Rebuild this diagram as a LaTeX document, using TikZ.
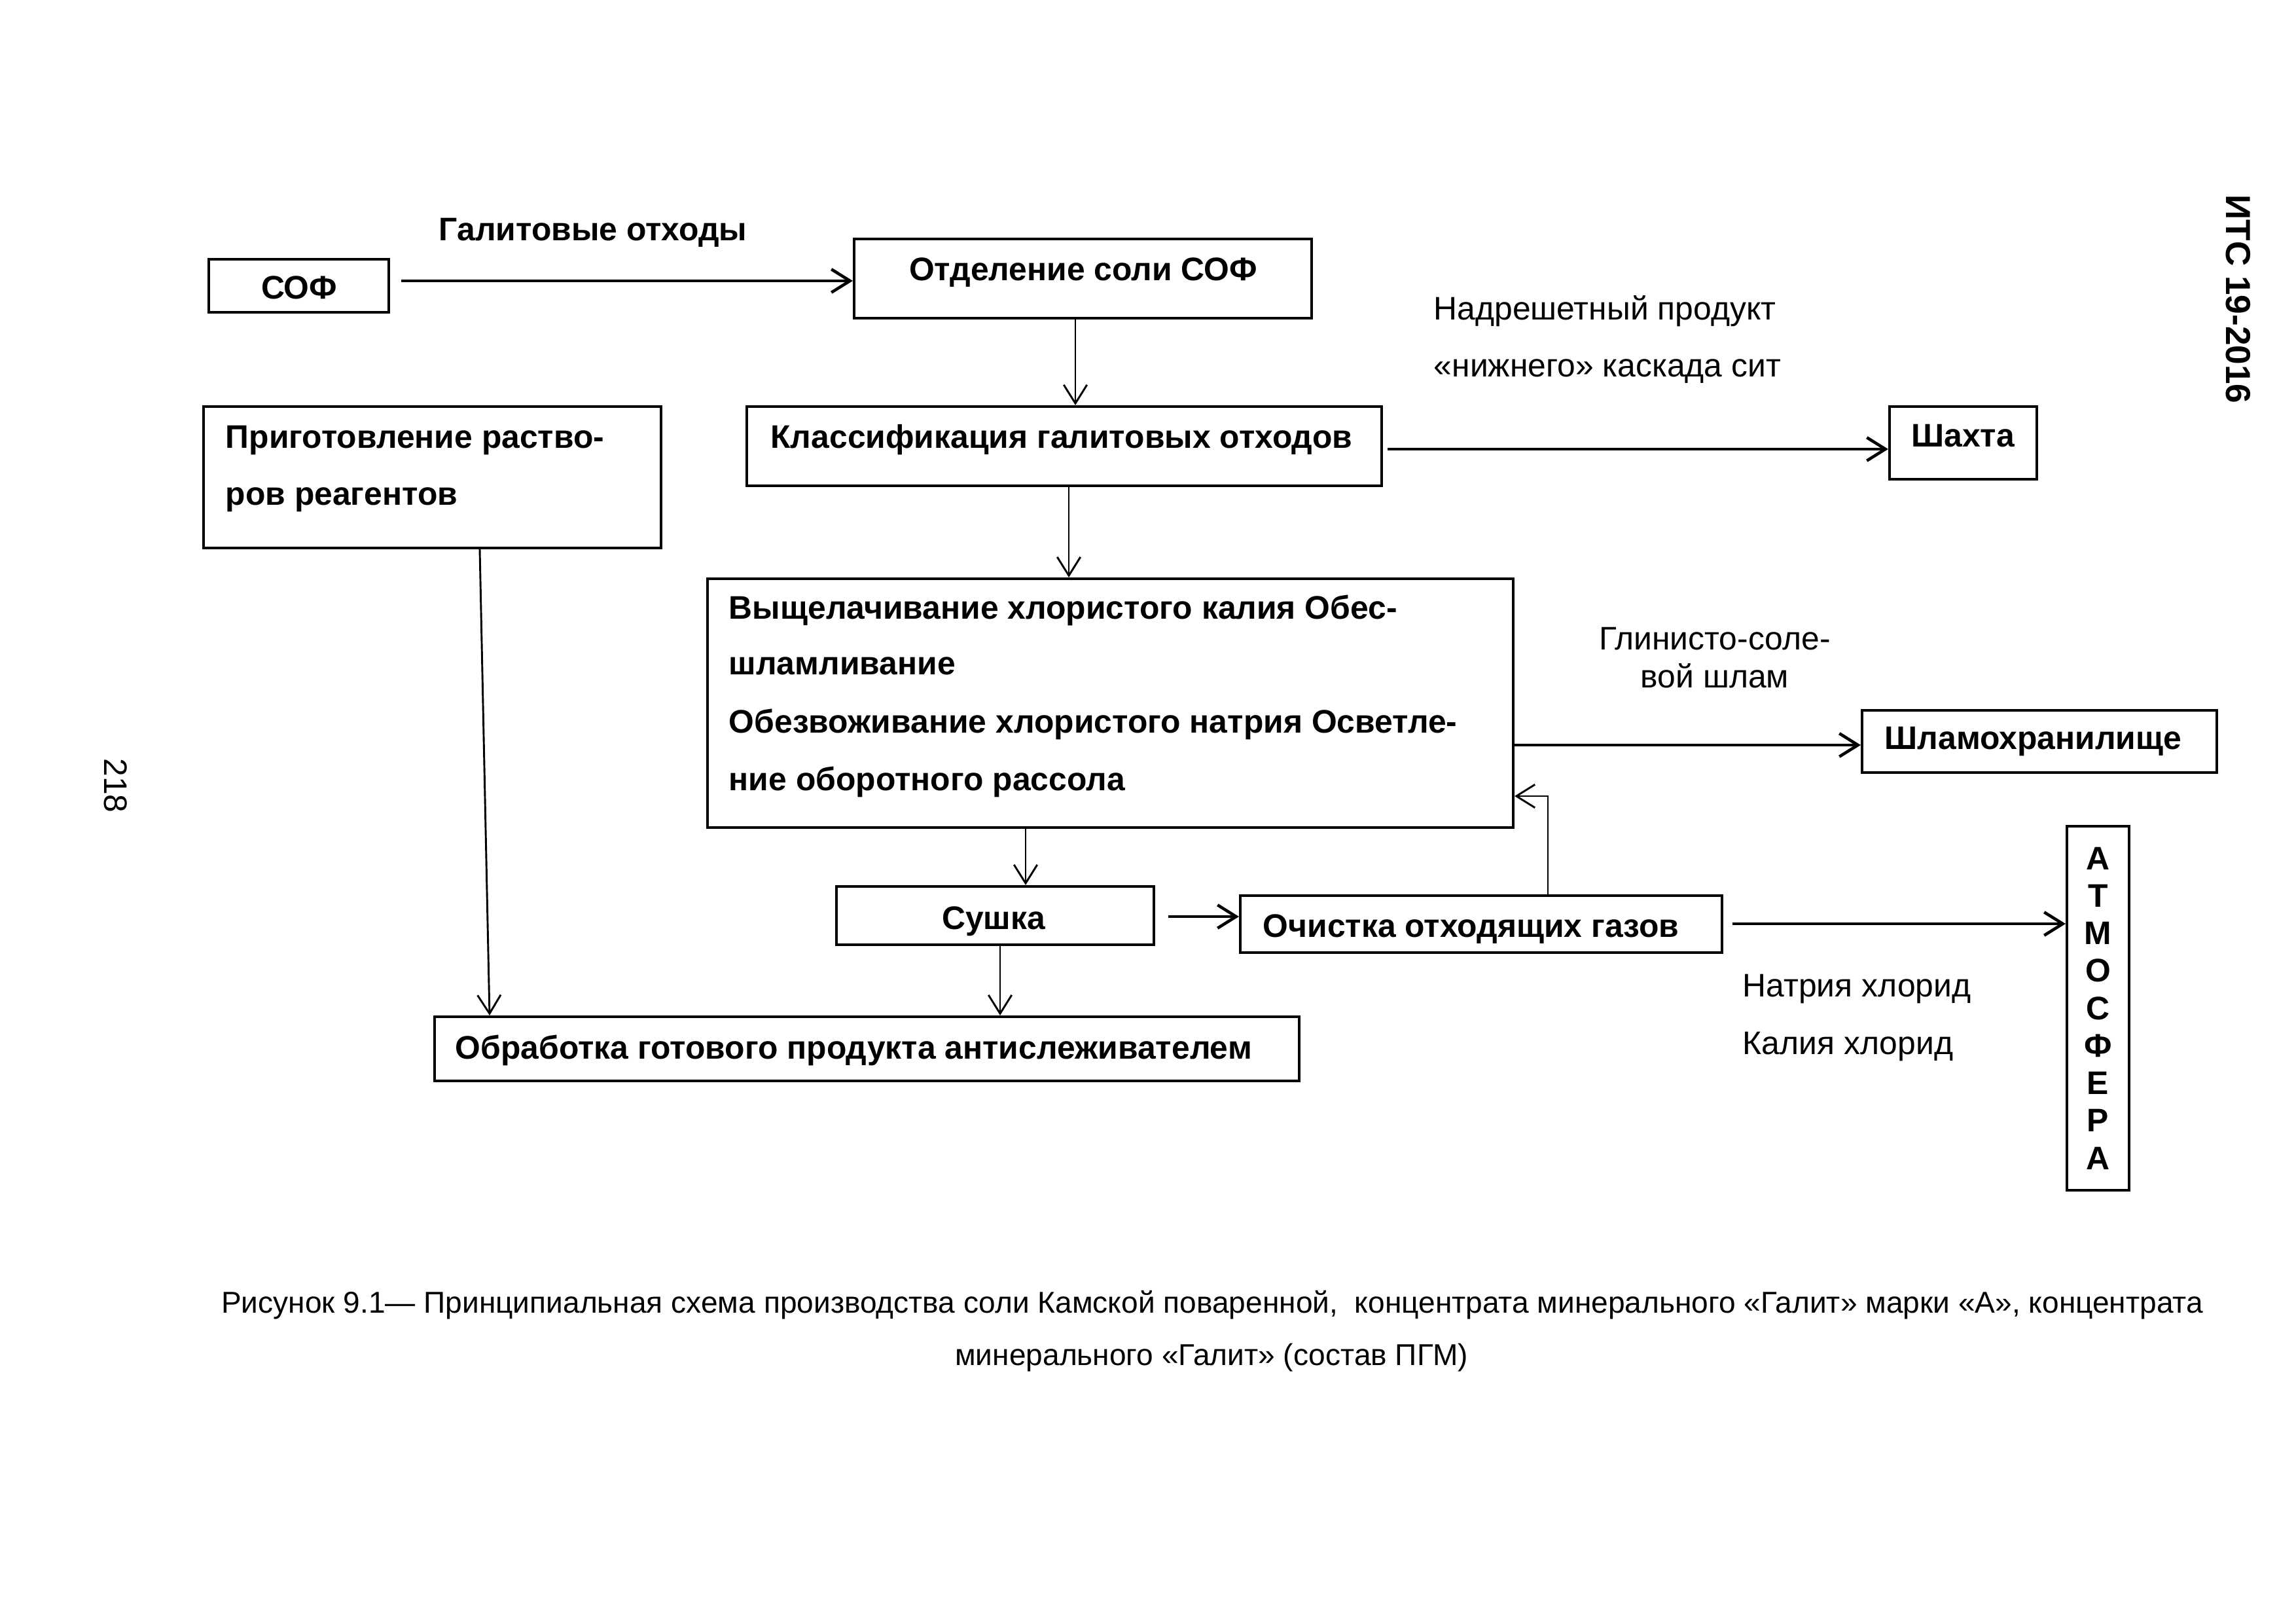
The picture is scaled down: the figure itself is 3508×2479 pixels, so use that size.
\documentclass[tikz,border=0pt]{standalone}
\usepackage{fontspec}
\setmainfont{Liberation Sans}
\usetikzlibrary{arrows.meta,fit,calc}
\begin{document}
\begin{tikzpicture}[x=0.0846667mm, y=-0.0846667mm,
  font=\fontsize{12}{14.4}\selectfont,
  box/.style={draw, line width=1pt, inner sep=0pt},
  lbl/.style={inner sep=0pt, anchor=base west},
  blbl/.style={lbl, font=\fontsize{12}{14.4}\selectfont\bfseries},
  arr/.style={-{Straight Barb[length=2.4mm,width=3mm]}, line width=1.1pt},
  tarr/.style={-{Straight Barb[length=2.4mm,width=3mm]}, line width=0.7pt}]
\useasboundingbox (0,0) rectangle (3508,2479);

% boxes
\node[box, fit={(319,396)(594,477)}] (sof) {};
\node[box, fit={(1305,365)(2004,486)}] (otd) {};
\node[box, fit={(311,621)(1010,837)}] (prep) {};
\node[box, fit={(1141,621)(2111,742)}] (klass) {};
\node[box, fit={(2887,621)(3112,732)}] (shakhta) {};
\node[box, fit={(1081,884)(2312,1264)}] (vysh) {};
\node[box, fit={(2845,1085)(3387,1180)}] (shlam) {};
\node[box, fit={(1278,1354)(1763,1443)}] (sushka) {};
\node[box, fit={(1895,1368)(2631,1455)}] (ochist) {};
\node[box, fit={(664,1553)(1985,1651)}] (obrab) {};
\node[box, fit={(3158,1262)(3253,1818)}] (atm) {};

% box texts
\node[blbl, anchor=base] (sof-t) at (457,457) {СОФ};
\node[blbl, anchor=base] (otd-t) at (1655,429) {Отделение соли СОФ};
\node[blbl] (prep-t1) at (344,685) {Приготовление раство-};
\node[blbl] (prep-t2) at (344,772) {ров реагентов};
\node[blbl, anchor=base] (klass-t) at (1622,685) {Классификация галитовых отходов};
\node[blbl, anchor=base] (shakhta-t) at (2999,683) {Шахта};
\node[blbl] (vysh-t1) at (1113,946) {Выщелачивание хлористого калия Обес-};
\node[blbl] (vysh-t2) at (1113,1031) {шламливание};
\node[blbl] (vysh-t3) at (1113,1120) {Обезвоживание хлористого натрия Осветле-};
\node[blbl] (vysh-t4) at (1113,1207) {ние оборотного рассола};
\node[blbl] (shlam-t) at (2879,1145) {Шламохранилище};
\node[blbl, anchor=base] (sushka-t) at (1518,1419) {Сушка};
\node[blbl] (ochist-t) at (1929,1431) {Очистка отходящих газов};
\node[blbl] (obrab-t) at (695,1617) {Обработка готового продукта антислеживателем};
\node[align=center, inner sep=0pt, font=\fontsize{12}{13.8}\selectfont\bfseries] (atm-t) at (atm.center)
  {А\\Т\\М\\О\\С\\Ф\\Е\\Р\\А};

% free labels
\node[blbl] (galit) at (670,368) {Галитовые отходы};
\node[lbl] (nadr1) at (2190,489) {Надрешетный продукт};
\node[lbl] (nadr2) at (2190,576) {«нижнего» каскада сит};
\node[lbl, anchor=base] (glin1) at (2620,993) {Глинисто-соле-};
\node[lbl, anchor=base] (glin2) at (2620,1051) {вой шлам};
\node[lbl] (na) at (2662,1522) {Натрия хлорид};
\node[lbl] (kcl) at (2662,1610) {Калия хлорид};
\node[rotate=-90, inner sep=0pt, font=\fontsize{12.8}{15}\selectfont\bfseries] (its) at (3420,457) {ИТС 19-2016};
\node[rotate=-90, inner sep=0pt] (page) at (177,1200) {218};
\node[inner sep=0pt, anchor=base, font=\fontsize{11.1}{13}\selectfont] (cap1) at (1852,2005)
  {Рисунок 9.1— Принципиальная схема производства соли Камской поваренной,\ \ концентрата минерального «Галит» марки «А», концентрата};
\node[inner sep=0pt, anchor=base, font=\fontsize{11.1}{13}\selectfont] (cap2) at (1851,2085) {минерального «Галит» (состав ПГМ)};

% connectors
\draw[arr] ($(sof.east)+(17,-7.5)$) -- (otd.west |- 0,429);
\draw[tarr] (otd.south -| 1643,0) -- (klass.north -| 1643,0);
\draw[arr] ($(klass.east |- 0,686)+(7,0)$) -- (shakhta.west |- 0,686);
\draw[tarr] (klass.south -| 1633,0) -- (vysh.north -| 1633,0);
\draw[tarr] (prep.south -| 733,0) -- (obrab.north -| 748,0);
\draw[tarr] (vysh.south -| 1567,0) -- (sushka.north -| 1567,0);
\draw[tarr] (sushka.south -| 1528,0) -- (obrab.north -| 1528,0);
\draw[arr] ($(sushka.east |- 0,1400)+(20,0)$) -- (ochist.west |- 0,1400);
\draw[tarr] (ochist.north -| 2365,0) |- (vysh.east |- 0,1216);
\draw[arr] (vysh.east |- 0,1138) -- (shlam.west |- 0,1138);
\draw[arr] ($(ochist.east |- 0,1411)+(14,0)$) -- (atm.west |- 0,1411);
\end{tikzpicture}
\end{document}
